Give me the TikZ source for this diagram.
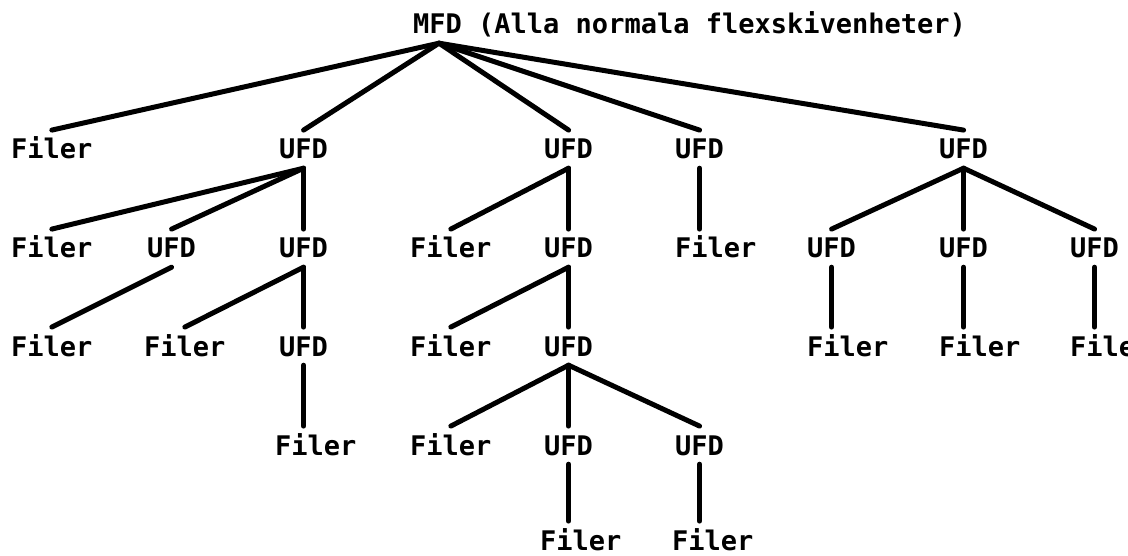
\documentclass[tikz,border=0pt]{standalone}
\usepackage{fontspec}
\newfontfamily\typefont{DejaVu Sans Mono}
\begin{document}
\begin{tikzpicture}[x=1pt,y=-1pt,
  lbl/.style={font=\typefont\bfseries\fontsize{27}{27}\selectfont, inner xsep=0pt,
    inner ysep=9pt, text height=19.7pt, text depth=0pt, anchor=base west},
  edge/.style={line width=5pt, line cap=round}]
\path[use as bounding box, clip] (0,0) rectangle (1128,556);
% root
\node[lbl] (m) at (413,34) {MFD (Alla normala flexskivenheter)};
\coordinate (mroot) at ([xshift=26pt]m.south west);
% row 1
\node[lbl] (f1) at (11,159) {Filer};
\node[lbl] (u1) at (279,159) {UFD};
\node[lbl] (u2) at (544,159) {UFD};
\node[lbl] (u3) at (675,159) {UFD};
\node[lbl] (u4) at (939,159) {UFD};
% row 2
\node[lbl] (f21) at (11,258) {Filer};
\node[lbl] (u11) at (147,258) {UFD};
\node[lbl] (u12) at (279,258) {UFD};
\node[lbl] (f22) at (410,258) {Filer};
\node[lbl] (u21) at (544,258) {UFD};
\node[lbl] (f31) at (675,258) {Filer};
\node[lbl] (u41) at (807,258) {UFD};
\node[lbl] (u42) at (939,258) {UFD};
\node[lbl] (u43) at (1070,258) {UFD};
% row 3
\node[lbl] (f111) at (11,356) {Filer};
\node[lbl] (f121) at (144,356) {Filer};
\node[lbl] (u121) at (279,356) {UFD};
\node[lbl] (f211) at (410,356) {Filer};
\node[lbl] (u211) at (544,356) {UFD};
\node[lbl] (f411) at (807,356) {Filer};
\node[lbl] (f421) at (939,356) {Filer};
\node[lbl] (f431) at (1070,356) {Filer};
% row 4
\node[lbl] (f1211) at (275,455) {Filer};
\node[lbl] (f2111) at (410,455) {Filer};
\node[lbl] (u2111) at (544,455) {UFD};
\node[lbl] (u2112) at (675,455) {UFD};
% row 5
\node[lbl] (f21111) at (540,550) {Filer};
\node[lbl] (f21121) at (672,550) {Filer};
% edges
\foreach \c in {f1,u1,u2,u3,u4} \draw[edge] (mroot) -- (\c.north);
\foreach \c in {f21,u11,u12} \draw[edge] (u1.south) -- (\c.north);
\draw[edge] (u11.south) -- (f111.north);
\draw[edge] (u12.south) -- (f121.north);
\draw[edge] (u12.south) -- (u121.north);
\draw[edge] (u121.south) -- (u121.south |- f1211.north);
\draw[edge] (u2.south) -- (f22.north);
\draw[edge] (u2.south) -- (u21.north);
\draw[edge] (u21.south) -- (f211.north);
\draw[edge] (u21.south) -- (u211.north);
\foreach \c in {f2111,u2111,u2112} \draw[edge] (u211.south) -- (\c.north);
\draw[edge] (u2111.south) -- (u2111.south |- f21111.north);
\draw[edge] (u2112.south) -- (u2112.south |- f21121.north);
\draw[edge] (u3.south) -- (u3.south |- f31.north);
\foreach \c in {u41,u42,u43} \draw[edge] (u4.south) -- (\c.north);
\draw[edge] (u41.south) -- (u41.south |- f411.north);
\draw[edge] (u42.south) -- (u42.south |- f421.north);
\draw[edge] (u43.south) -- (u43.south |- f431.north);
\end{tikzpicture}
\end{document}
